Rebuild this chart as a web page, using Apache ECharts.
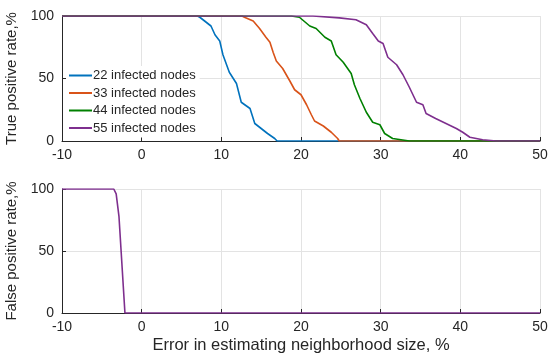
<!DOCTYPE html>
<html>
<head>
<meta charset="utf-8">
<script src="https://cdn.jsdelivr.net/npm/echarts@6/dist/echarts.min.js"></script>
<style>html,body{margin:0;padding:0;background:#fff}#c{width:548px;height:358px}</style>
</head>
<body>
<div id="c"></div>
<script>
const seriesNames = ['22 infected nodes', '33 infected nodes', '44 infected nodes', '55 infected nodes'];
const xTicks = [-10, 0, 10, 20, 30, 40, 50];
const yTicks = [0, 50, 100];

const tp22x = [-10, 7.0, 7.3, 7.9, 8.7, 9.2, 9.8, 10.2, 11.0, 11.9, 12.5, 13.6, 14.2, 15.0, 15.8, 16.7, 17.0, 50];
const tp22y = [100, 100, 99, 96, 92, 85, 80, 69, 55, 46, 31, 26, 14, 10, 6, 2, 0, 0];
const tp33x = [-10, 12.6, 12.9, 14.0, 14.8, 15.6, 16.1, 16.5, 16.9, 17.7, 18.6, 19.2, 20.0, 20.7, 21.3, 21.7, 22.8, 23.8, 24.6, 24.8, 50];
const tp33y = [100, 100, 99, 96, 90, 83, 79, 71, 64, 58, 48, 41, 37, 29, 21, 16, 12, 7, 2, 0, 0];
const tp44x = [-10, 18.8, 19.8, 21.1, 21.9, 23.0, 23.8, 24.4, 25.3, 26.3, 26.7, 27.4, 28.2, 29.0, 29.9, 30.5, 31.5, 33.6, 50];
const tp44y = [100, 100, 99, 92, 90, 83, 80, 69, 63, 54, 45, 34, 23, 15, 13, 6, 2, 0, 0];
const tp55x = [-10, 21.5, 24.8, 26.9, 28.2, 29.0, 29.7, 30.3, 30.9, 32.0, 32.8, 33.6, 34.5, 35.3, 35.7, 36.9, 38.2, 39.5, 40.3, 41.2, 42.8, 44.5, 50];
const tp55y = [100, 100, 98.5, 97, 93, 86, 80, 78, 67, 61, 53, 43, 31, 29, 22, 18, 14, 10, 7, 3, 1, 0, 0];
const fpx = [-10, -3.5, -3.2, -2.85, -2.1, 50];
const fpy = [100, 100, 96, 78, 0, 0];

const colors = ['#0072BD', '#D95319', '#008000', '#7E2F8E'];
const zip = (xs, ys) => xs.map((x, i) => [x, ys[i]]);
const FONT = 'Liberation Sans, Arial, sans-serif';
const txt = '#262626';

function xAxis(gi, name) {
  return {
    type: 'value', gridIndex: gi, min: -10, max: 50, interval: 10,
    name: name || '', nameLocation: 'middle', nameGap: 24,
    nameTextStyle: { fontFamily: FONT, fontSize: 16.5, color: txt },
    axisLine: { show: true, onZero: false, lineStyle: { color: '#262626', width: 1 } },
    axisTick: { show: true, inside: true, length: 4, lineStyle: { color: '#262626' } },
    axisLabel: { fontFamily: FONT, fontSize: 14, color: txt, margin: 7 },
    splitLine: { show: true, lineStyle: { color: '#e3e3e3', width: 1 } }
  };
}
function yAxis(gi, name) {
  return {
    type: 'value', gridIndex: gi, min: 0, max: 100, interval: 50,
    name: name, nameLocation: 'middle', nameGap: 32, nameRotate: 90,
    nameTextStyle: { fontFamily: FONT, fontSize: 15, color: txt },
    axisLine: { show: true, onZero: false, lineStyle: { color: '#262626', width: 1 } },
    axisTick: { show: true, inside: true, length: 4, lineStyle: { color: '#262626' } },
    axisLabel: { fontFamily: FONT, fontSize: 14, color: txt, margin: 8 },
    splitLine: { show: true, lineStyle: { color: '#e3e3e3', width: 1 } }
  };
}
function line(name, data, color, xi, yi, z) {
  return {
    name: name, type: 'line', data: data, xAxisIndex: xi, yAxisIndex: yi,
    showSymbol: false, symbol: 'none', z: z, animation: false,
    lineStyle: { color: color, width: 1.6 }, itemStyle: { color: color }
  };
}

const chart = echarts.init(document.getElementById('c'), null, { renderer: 'canvas' });
chart.setOption({
  animation: false,
  backgroundColor: '#fff',
  grid: [
    { left: 62, right: 8, top: 16, height: 125, outerBoundsMode: 'none', containLabel: false },
    { left: 62, right: 8, top: 189, height: 124, outerBoundsMode: 'none', containLabel: false }
  ],
  xAxis: [xAxis(0), xAxis(1, 'Error in estimating neighborhood size, %')],
  yAxis: [yAxis(0, 'True positive rate,%'), yAxis(1, 'False positive rate,%')],
  legend: {
    data: seriesNames, orient: 'vertical', left: 66, top: 66,
    icon: 'rect', itemWidth: 23, itemHeight: 2, itemGap: 4.5,
    padding: [3, 4, 3, 3], backgroundColor: '#fff',
    textStyle: { fontFamily: FONT, fontSize: 13, color: txt, lineHeight: 13, padding: [0, 0, 0, -4] }
  },
  series: [
    line(seriesNames[0], zip(tp22x, tp22y), colors[0], 0, 0, 2),
    line(seriesNames[1], zip(tp33x, tp33y), colors[1], 0, 0, 3),
    line(seriesNames[2], zip(tp44x, tp44y), colors[2], 0, 0, 4),
    line(seriesNames[3], zip(tp55x, tp55y), colors[3], 0, 0, 5),
    line('fp', zip(fpx, fpy), colors[3], 1, 1, 5)
  ]
});
</script>
</body>
</html>
